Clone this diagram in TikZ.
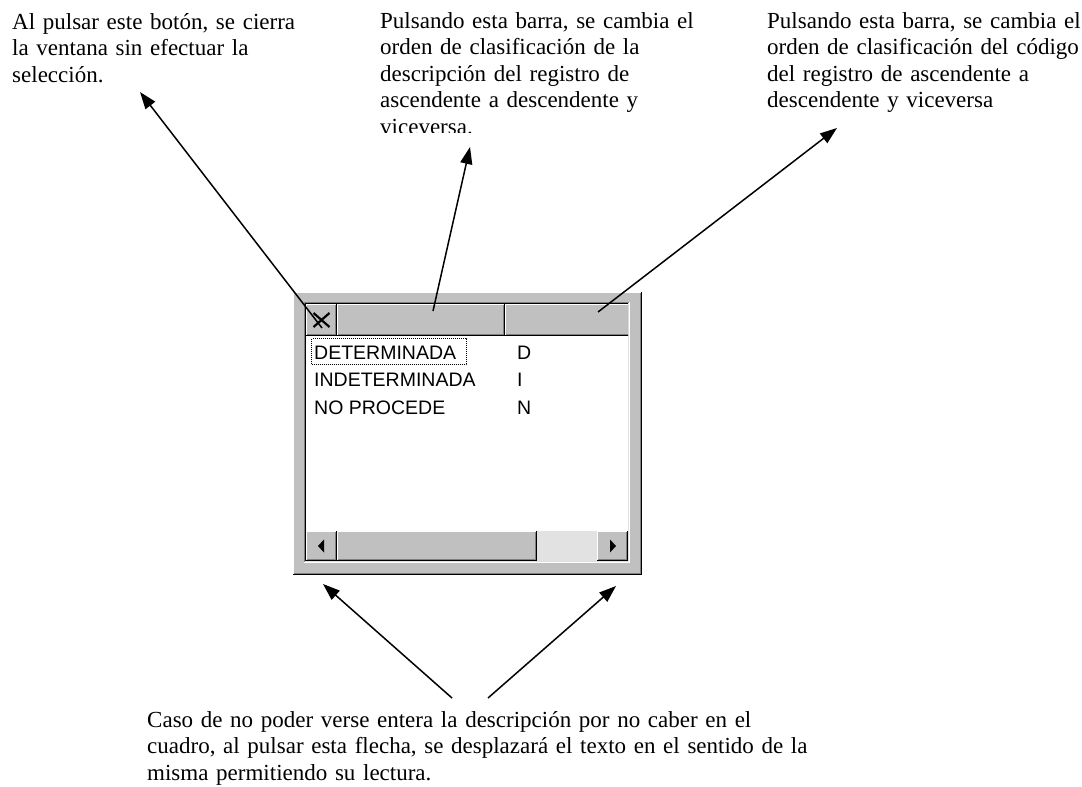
\documentclass[tikz,border=0pt]{standalone}
\usepackage{fontspec}
\newfontfamily\notefont{Liberation Serif}
\newfontfamily\listfont{Liberation Sans}
\usetikzlibrary{arrows.meta}

\definecolor{winface}{HTML}{C0C0C0}
\definecolor{winshadow}{HTML}{808080}
\definecolor{winlight}{HTML}{DFDFDF}
\definecolor{wintrack}{HTML}{E2E2E2}

% raised and sunken 3d edges round a node
\newcommand{\winraise}[1]{%
  \draw[white] ([xshift=.5pt,yshift=1pt]#1.south west) |- ([xshift=-1pt,yshift=-.5pt]#1.north east);
  \draw[winshadow] ([xshift=1pt,yshift=1.5pt]#1.south west) -| ([xshift=-1.5pt,yshift=-1pt]#1.north east);
  \draw[black] ([yshift=.5pt]#1.south west) -| ([xshift=-.5pt]#1.north east);
}
\newcommand{\winsink}[1]{%
  \draw[winshadow] ([xshift=.5pt]#1.south west) |- ([yshift=-.5pt]#1.north east);
  \draw[black] ([xshift=1.5pt,yshift=1pt]#1.south west) |- ([xshift=-1pt,yshift=-1.5pt]#1.north east);
  \draw[white] ([yshift=.5pt]#1.south west) -| ([xshift=-.5pt]#1.north east);
  \draw[winlight] ([xshift=1pt,yshift=1.5pt]#1.south west) -| ([xshift=-1.5pt,yshift=-1pt]#1.north east);
}

\tikzset{
  wincell/.style={anchor=north west, fill=winface, inner sep=0pt, outer sep=0pt},
  note/.style={anchor=base west, inner sep=0pt, text width=340pt, align=left,
    font=\notefont\fontsize{23}{26.6}\selectfont},
  listtxt/.style={anchor=base west, inner sep=0pt, font=\listfont\fontsize{19.5}{22}\selectfont},
  pointer/.style={-{Triangle[length=17pt,width=12pt]}, line width=1.5pt},
  xmark/.style={line width=2.2pt},
}

\begin{document}
\begin{tikzpicture}[x=1pt, y=-1pt]
    \useasboundingbox (0,0) rectangle (1082,787);

    % the window
    \node[wincell, minimum width=349pt, minimum height=283pt] (win) at (293,292) {};
    \begin{scope}[line width=1pt]
        \winraise{win}
    \end{scope}
    \node[wincell, fill=white, minimum width=326pt, minimum height=261pt] (winpane) at (304,302) {};
    \begin{scope}[line width=1pt]
        \winsink{winpane}
    \end{scope}

    \begin{scope}[line width=1pt]
        \clip (306,304) rectangle (628,561);
        % header
        \node[wincell, minimum width=31pt, minimum height=32pt] (btnclose) at (306,304) {};
        \node[wincell, minimum width=168pt, minimum height=32pt] (hdrdesc) at (337,304) {};
        \node[wincell, minimum width=140pt, minimum height=32pt] (hdrcode) at (505,304) {};
        \winraise{btnclose}
        \winraise{hdrdesc}
        \winraise{hdrcode}
        \draw[xmark] ([shift={(-8pt,7pt)}]btnclose.center) -- ([shift={(8pt,-7pt)}]btnclose.center)
                     ([shift={(-8pt,-7pt)}]btnclose.center) -- ([shift={(8pt,7pt)}]btnclose.center);
        % scroll bar
        \node[wincell, minimum width=31pt, minimum height=30pt] (scrleft) at (306,531) {};
        \node[wincell, minimum width=200pt, minimum height=30pt] (scrthumb) at (337,531) {};
        \fill[wintrack] (537,531) rectangle (597,561);
        \node[wincell, minimum width=31pt, minimum height=30pt] (scrright) at (597,531) {};
        \winraise{scrleft}
        \winraise{scrthumb}
        \winraise{scrright}
        \fill (scrleft.center) ++(-3.5,0) -- ++(6,-6.5) -- ++(0,13) -- cycle;
        \fill (scrright.center) ++(3.5,0) -- ++(-6,-6.5) -- ++(0,13) -- cycle;
    \end{scope}

    % list rows
    \draw[line width=1pt, dash pattern=on 1pt off 1pt] (311.5,338.5) rectangle (466.5,364.5);
    \foreach \desc/\code [count=\i] in {DETERMINADA/D, INDETERMINADA/I, NO PROCEDE/N} {
        \node[listtxt] (row\i) at (314,{359+27.5*(\i-1)}) {\desc};
        \node[listtxt] (code\i) at (517,{359+27.5*(\i-1)}) {\code};
    }

    % notes
    \node[note] (notecerrar) at (12,29) {Al pulsar este botón, se cierra\\la ventana sin efectuar la\\selección.};
    \begin{scope}
        \clip (370,0) rectangle (760,132.5);
        \node[note] (notedesc) at (380,28) {Pulsando esta barra, se cambia el\\orden de clasificación de la\\descripción del registro de\\ascendente a descendente y\\viceversa.};
    \end{scope}
    \node[note] (notecode) at (767,28) {Pulsando esta barra, se cambia el\\orden de clasificación del código\\del registro de ascendente a\\descendente y viceversa};
    \node[note, text width=700pt] (notescroll) at (147,727) {Caso de no poder verse entera la descripción por no caber en el\\cuadro, al pulsar esta flecha, se desplazará el texto en el sentido de la\\misma permitiendo su lectura.};

    % arrows
    \coordinate (tipcerrar) at (140,92);
    \coordinate (tipdesc) at (470,147);
    \coordinate (tipcode) at (837,128);
    \coordinate (fromleft) at (452,698);
    \coordinate (fromright) at (488,698);
    \draw[pointer] ([shift={(0.5pt,-8pt)}]btnclose.center) -- (tipcerrar);
    \draw[pointer] ([shift={(12pt,9pt)}]hdrdesc.center) -- (tipdesc);
    \draw[pointer] ([shift={(23pt,8pt)}]hdrcode.center) -- (tipcode);
    \draw[pointer] (fromleft) -- ([shift={(1.5pt,-23pt)}]scrleft.south);
    \draw[pointer] (fromright) -- ([shift={(3.5pt,-25pt)}]scrright.south);
\end{tikzpicture}
\end{document}
